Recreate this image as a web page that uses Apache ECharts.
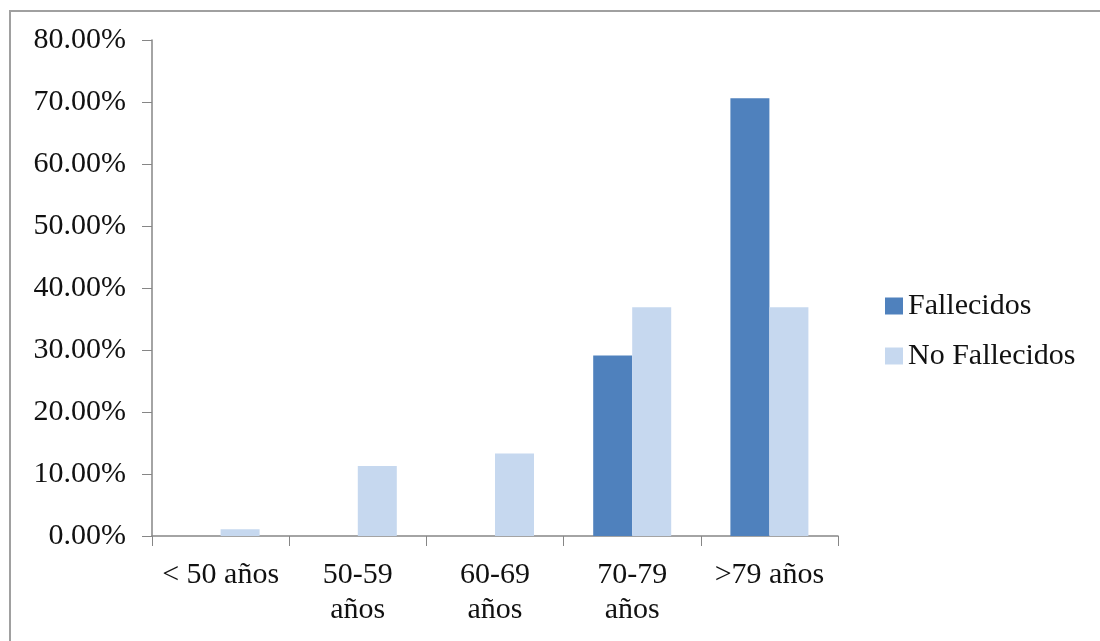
<!DOCTYPE html>
<html>
<head>
<meta charset="utf-8">
<script src="https://cdn.jsdelivr.net/npm/echarts@6/dist/echarts.min.js"></script>
<style>
  html, body { margin: 0; padding: 0; background: #fff; }
  #main { width: 1100px; height: 641px; }
</style>
</head>
<body>
<div id="main"></div>
<script>
    // datos
    var categorias = ['< 50 años', '50-59\naños', '60-69\naños', '70-79\naños', '>79 años'];
    var fallecidos = [0, 0, 0, 29.1, 70.6];
    var noFallecidos = [1.1, 11.3, 13.3, 36.9, 36.9];

    var fuente = '"Liberation Serif", "Times New Roman", serif';
    var myChart = echarts.init(document.getElementById('main'));

    var option = {
        backgroundColor: '#fff',
        animation: false,
        // marco: solo se ven los bordes superior e izquierdo
        graphic: [{
            type: 'rect',
            shape: { x: 10, y: 11, width: 1200, height: 700 },
            style: { fill: 'none', stroke: '#a0a0a0', lineWidth: 2 }
        }],
        grid: { left: 152, right: 262, top: 40, bottom: 105 },
        legend: {
            orient: 'vertical',
            left: 880,
            top: 286,
            itemWidth: 18,
            itemHeight: 17,
            itemGap: 20,
            icon: 'rect',
            textStyle: { fontFamily: fuente, fontSize: 30, color: '#111' },
            data: ['Fallecidos', 'No Fallecidos']
        },
        xAxis: {
            type: 'category',
            data: categorias,
            axisLine: { lineStyle: { color: '#868686', width: 1.5 } },
            axisTick: { show: true, length: 10, lineStyle: { color: '#868686' } },
            axisLabel: {
                fontFamily: fuente, fontSize: 30, color: '#111',
                margin: 22, lineHeight: 35, interval: 0
            }
        },
        yAxis: {
            type: 'value',
            min: 0,
            max: 80,
            interval: 10,
            axisLine: { show: true, lineStyle: { color: '#868686', width: 1.5 } },
            axisTick: { show: true, length: 10, lineStyle: { color: '#868686' } },
            splitLine: { show: false },
            axisLabel: {
                fontFamily: fuente, fontSize: 30, color: '#111', margin: 26,
                formatter: function (v) { return v.toFixed(2) + '%'; }
            }
        },
        series: [{
            name: 'Fallecidos',
            type: 'bar',
            data: fallecidos,
            barWidth: 39,
            barGap: '0%',
            itemStyle: { color: '#4f81bd' }
        }, {
            name: 'No Fallecidos',
            type: 'bar',
            data: noFallecidos,
            barWidth: 39,
            itemStyle: { color: '#c6d8ef' }
        }]
    };
    myChart.setOption(option);
</script>
</body>
</html>
